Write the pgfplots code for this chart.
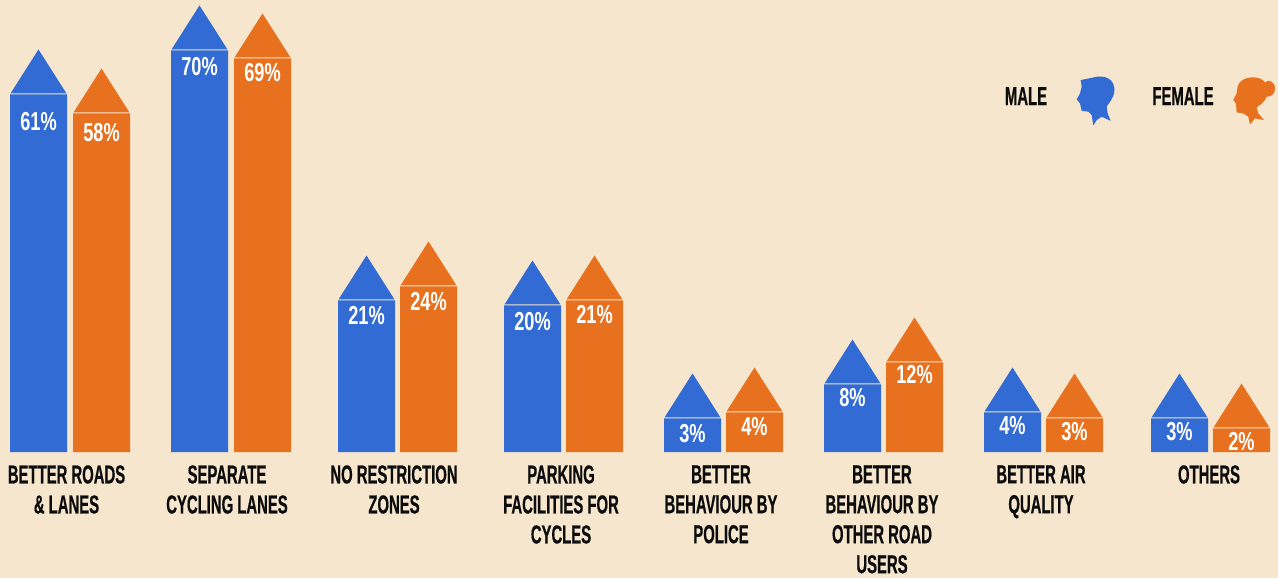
\documentclass[border=0pt]{standalone}
\usepackage{fontspec}
\usepackage{pgfplots}
\usepackage{pgfplotstable}
\pgfplotsset{compat=1.18}
\setmainfont{Liberation Sans}
\newfontfamily\catfont[FakeStretch=0.572,FakeBold=0.5]{Liberation Sans}
\newfontfamily\valfont[FakeStretch=0.70]{Liberation Sans}
\definecolor{bg}{HTML}{F6E6CE}
\definecolor{mblue}{HTML}{316BD3}
\definecolor{forange}{HTML}{E7711E}
\definecolor{ink}{HTML}{0C0C0C}
\pgfdeclareplotmark{roof}{%
  \pgfpathmoveto{\pgfqpoint{-28pt}{1pt}}%
  \pgfpathlineto{\pgfqpoint{0pt}{45pt}}%
  \pgfpathlineto{\pgfqpoint{28pt}{1pt}}%
  \pgfpathclose\pgfusepathqfill}
% x: bar centre, h: drawn bar height, ly: height of the label, v: printed value
\pgfplotstableread{
x h ly v
38.5 357.6 331 61
199.5 401.6 386 70
366.5 151.6 137 21
532.5 146.6 131 20
692.5 33.6 19 3
852.5 67.6 55 8
1012.5 39.6 27 4
1179.5 33.6 21 3
}\male
\pgfplotstableread{
x h ly v
101.5 338.6 320 58
262.5 393.6 380 69
428.5 165.6 151 24
594.5 151.6 138 21
754.5 39.6 26 4
914.5 89.6 78 12
1074.5 33.6 21 3
1241.5 23.6 11 2
}\female
\pgfplotsset{
  valuelabels/.style={draw=none, mark=none, forget plot,
    nodes near coords={\pgfmathprintnumber{\pgfplotspointmeta}\%},
    every node near coord/.append style={anchor=center, text=white, inner sep=0pt,
      font=\valfont\bfseries\fontsize{26}{26}\selectfont,
      /pgf/number format/assume math mode=true,
      /pgf/number format/fixed, /pgf/number format/precision=0}},
}
\begin{document}
\begin{tikzpicture}
\begin{axis}[
  x=1pt, y=1pt,
  xmin=0, xmax=1278, ymin=-126, ymax=452,
  axis line style={draw=none},
  axis background/.style={fill=bg},
  major tick length=0pt,
  ytick=\empty,
  xtick={66.5,227,394,561,721,882,1041,1209},
  xticklabels={
    {\raisebox{3pt}{BETTER ROADS}\\\raisebox{3pt}{\& LANES}},
    {SEPARATE\\CYCLING LANES},
    {NO RESTRICTION\\ZONES},
    {PARKING\\FACILITIES FOR\\CYCLES},
    {BETTER\\BEHAVIOUR BY\\POLICE},
    {BETTER\\BEHAVIOUR BY\\OTHER ROAD\\USERS},
    {BETTER AIR\\QUALITY},
    {OTHERS}},
  xticklabel style={align=center, anchor=north, text=ink, yshift=113pt, inner sep=0pt,
    font=\catfont\bfseries\fontsize{26}{30}\selectfont},
  clip=false,
]
\addplot[ybar, bar width=57pt, bar shift=0pt, fill=mblue, draw=none] table[x=x,y=h] {\male};
\addplot[ybar, bar width=57pt, bar shift=0pt, fill=forange, draw=none] table[x=x,y=h] {\female};
\addplot[only marks, mark=roof, mark options={fill=mblue, draw=none}] table[x=x,y=h] {\male};
\addplot[only marks, mark=roof, mark options={fill=forange, draw=none}] table[x=x,y=h] {\female};
\addplot[valuelabels, point meta=\thisrow{v}] table[x=x,y=ly] {\male};
\addplot[valuelabels, point meta=\thisrow{v}] table[x=x,y=ly] {\female};
\node[text=ink, font=\catfont\bfseries\fontsize{26}{26}\selectfont] at (axis cs:1026,356) {MALE};
\node[text=ink, font=\catfont\bfseries\fontsize{26}{26}\selectfont] at (axis cs:1183,356) {FEMALE};
\end{axis}
\begin{scope}[shift={(980pt,518pt)}, x=0.3333pt, y=-0.3333pt]
\fill[mblue] (302,60) -- (350,50) .. controls (385,45) and (405,65) .. (403,92)
  .. controls (402,115) and (385,130) .. (380,140)
  -- (383,160) -- (392,182) -- (365,170) -- (350,180) -- (340,196) -- (335,165) -- (325,155)
  -- (305,152) -- (300,130) -- (290,118) -- (300,100) -- (305,80) -- cycle;
\fill[forange] (772,85) .. controls (775,60) and (800,50) .. (825,52)
  .. controls (840,53) and (850,60) .. (855,67)
  .. controls (865,55) and (887,65) .. (885,88)
  .. controls (884,103) and (872,110) .. (860,110)
  .. controls (855,125) and (840,135) .. (830,142)
  -- (835,160) -- (852,180) -- (825,175) -- (810,193) -- (805,170)
  -- (790,160) -- (770,157) -- (768,130) -- (760,120) -- (770,100) -- cycle;
\end{scope}
\end{tikzpicture}
\end{document}
